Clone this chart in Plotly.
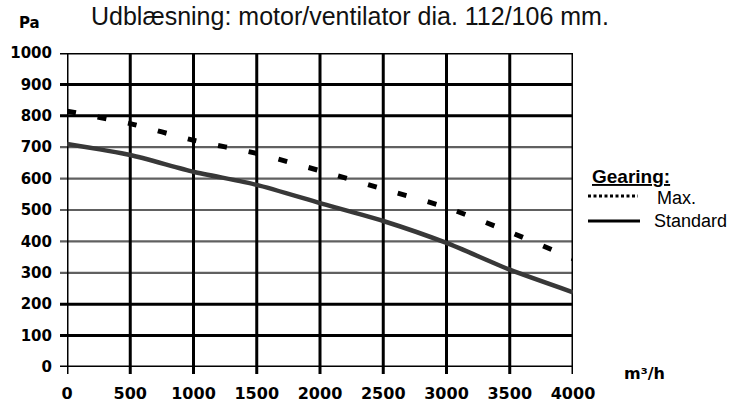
import plotly.graph_objects as go

# Data
airflow = [0, 500, 1000, 1500, 2000, 2500, 3000, 3500, 4000]  # m3/h
pressure_max = [815, 775, 722, 680, 625, 567, 508, 430, 345]   # Pa
pressure_std = [710, 675, 622, 580, 522, 465, 395, 310, 238]   # Pa
x_ticks = [0, 500, 1000, 1500, 2000, 2500, 3000, 3500, 4000]
y_ticks = [0, 100, 200, 300, 400, 500, 600, 700, 800, 900, 1000]
gray_levels = [300, 400, 500, 600, 700]
title_text = "Udblæsning: motor/ventilator dia. 112/106 mm."

FONT = "Liberation Sans, Arial, sans-serif"
BOLD = "DejaVu Sans, Liberation Sans, Arial, sans-serif"

W, H = 737, 404
L, R, T, B = 67, 164, 53, 37
PW, PH = W - L - R, H - T - B


def px(x):  # window pixel -> paper x
    return (x - L) / PW


def py(y):  # window pixel -> paper y
    return (H - B - y) / PH


fig = go.Figure()

shapes = []
for v in y_ticks:
    gray = v in gray_levels
    shapes.append(dict(type="line", xref="paper", yref="y", x0=px(60), x1=1.0,
                       y0=v, y1=v, layer="below",
                       line=dict(color="#606060" if gray else "#000000",
                                 width=2.2 if gray else 3)))
for v in x_ticks:
    shapes.append(dict(type="line", xref="x", yref="paper", x0=v, x1=v,
                       y0=py(374), y1=1.0, layer="below",
                       line=dict(color="#000000", width=3)))

fig.add_trace(go.Scatter(x=airflow, y=pressure_std, mode="lines",
                         line=dict(color="#383838", width=4.5, shape="spline", smoothing=0.6),
                         showlegend=False, hoverinfo="skip"))
fig.add_trace(go.Scatter(x=airflow, y=pressure_max, mode="lines",
                         line=dict(color="#000000", width=5, dash="9px,22px",
                                   shape="spline", smoothing=0.6),
                         showlegend=False, hoverinfo="skip"))

# legend drawn as shapes + annotations
shapes.append(dict(type="line", xref="paper", yref="paper",
                   x0=px(588), x1=px(638), y0=py(196), y1=py(196),
                   line=dict(color="#000", width=3, dash="3px,2.5px")))
shapes.append(dict(type="line", xref="paper", yref="paper",
                   x0=px(588), x1=px(640), y0=py(221), y1=py(221),
                   line=dict(color="#000", width=3)))

annotations = [
    dict(text=title_text, xref="paper", yref="paper", x=px(350),
         y=py(0), xanchor="center", yanchor="top", showarrow=False,
         font=dict(family=FONT, size=25, color="#111")),
    dict(text="<b>Pa</b>", xref="paper", yref="paper", x=px(17),
         y=py(23), xanchor="left", yanchor="middle", showarrow=False,
         font=dict(family=BOLD, size=15, color="#000")),
    dict(text="<b>m³/h</b>", xref="paper", yref="paper", x=px(622),
         y=py(373), xanchor="left", yanchor="middle", showarrow=False,
         font=dict(family=BOLD, size=16, color="#000")),
    dict(text="<b><u>Gearing:</u></b>", xref="paper", yref="paper", x=px(590),
         y=py(176), xanchor="left", yanchor="middle", showarrow=False,
         font=dict(family=FONT, size=19, color="#000")),
    dict(text="Max.", xref="paper", yref="paper", x=px(655),
         y=py(198), xanchor="left", yanchor="middle", showarrow=False,
         font=dict(family=FONT, size=18, color="#000")),
    dict(text="Standard", xref="paper", yref="paper", x=px(652),
         y=py(221), xanchor="left", yanchor="middle", showarrow=False,
         font=dict(family=FONT, size=18, color="#000")),
]

fig.update_layout(
    width=W, height=H,
    margin=dict(l=L, r=R, t=T, b=B, autoexpand=False),
    paper_bgcolor="white", plot_bgcolor="white",
    shapes=shapes, annotations=annotations,
    xaxis=dict(range=[0, 4000], tickvals=x_ticks, ticktext=[f"<b>{v}</b>" for v in x_ticks],
               showgrid=False, zeroline=False, showline=False, ticks="",
               ticklabelstandoff=15, automargin=False,
               tickfont=dict(family=BOLD, size=16, color="#000"), fixedrange=True),
    yaxis=dict(range=[0, 1000], tickvals=y_ticks, ticktext=[f"<b>{v}</b>" for v in y_ticks],
               showgrid=False, zeroline=False, showline=False, ticks="",
               ticklabelstandoff=14, automargin=False,
               tickfont=dict(family=BOLD, size=15, color="#000"), fixedrange=True),
    showlegend=False,
)

fig.write_html("out.html", config={"displayModeBar": False},
               post_script="document.body.style.margin='0';")
